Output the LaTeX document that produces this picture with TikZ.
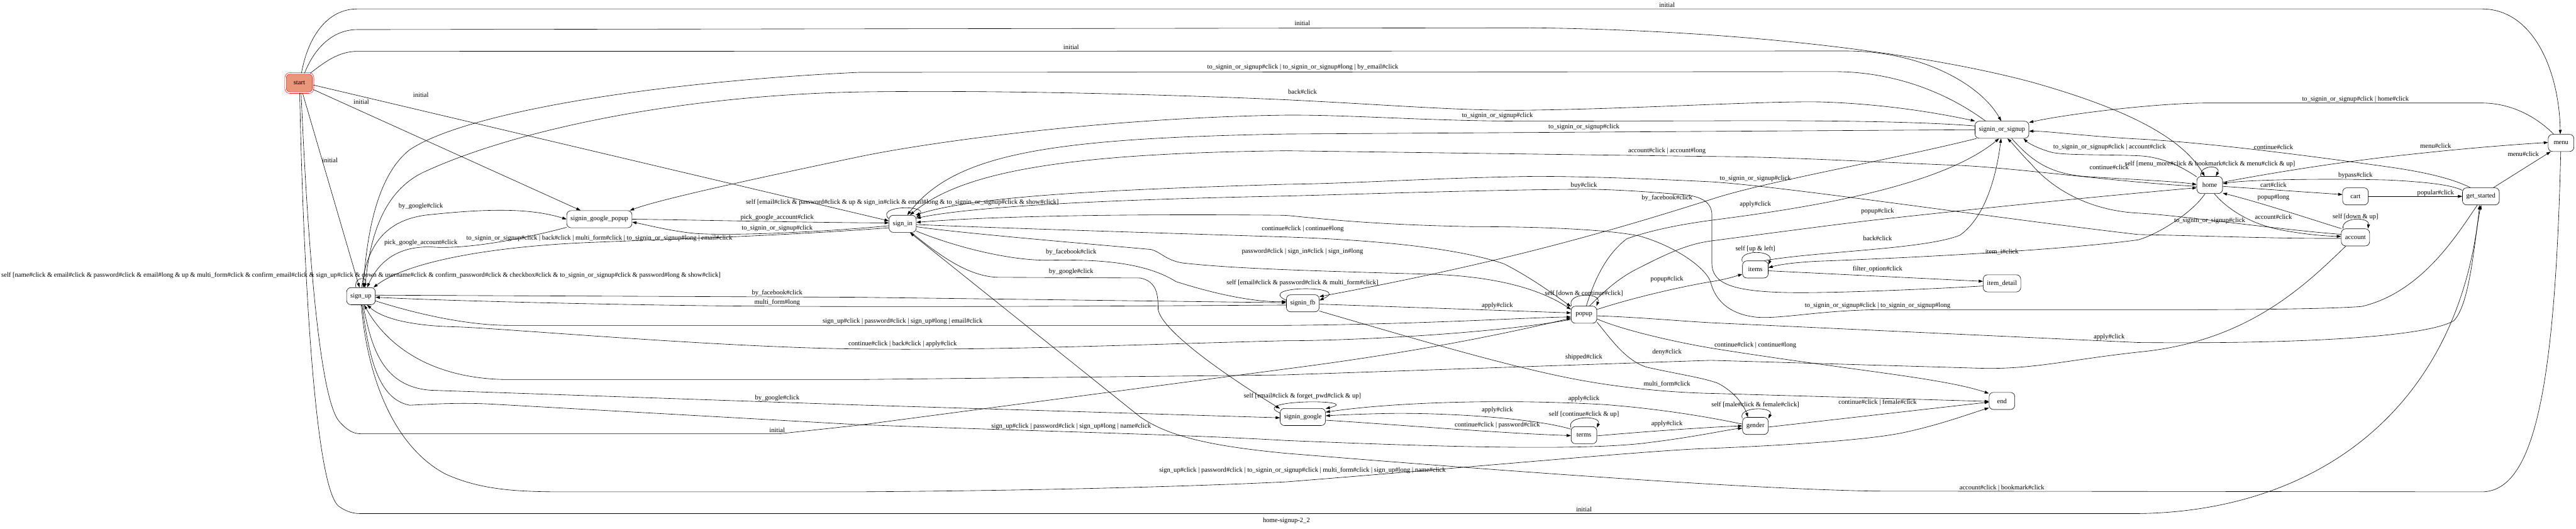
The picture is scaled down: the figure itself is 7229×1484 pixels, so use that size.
\documentclass[tikz,border=0pt]{standalone}
\usepackage{fontspec}
\setmainfont{Liberation Serif}
\usetikzlibrary{arrows.meta}
\definecolor{startfill}{HTML}{E9967A}

\begin{document}
\begin{tikzpicture}[x=0.75pt, y=-0.75pt,
	state/.style={draw, fill=white, rounded corners=9pt, line width=0.8pt, minimum height=36pt, minimum width=54pt, inner xsep=8pt, font=\fontsize{14}{16}\selectfont},
	initst/.style={state, draw=red, double=white, double distance=2.2pt, fill=startfill, minimum width=58pt, minimum height=40.5pt},
	edge/.style={line width=0.8pt, -{Triangle[length=9pt, width=6pt]}},
	lbl/.style={inner sep=0pt, font=\fontsize{14}{16}\selectfont}]
	\useasboundingbox (0,0) rectangle (7229,1484);

	\node[initst] (start) at (840,233) {start};
	\node[state] (signup) at (1013,831) {sign\_up};
	\node[state] (sgp) at (1682,615) {signin\_google\_popup};
	\node[state] (signin) at (2533,628) {sign\_in};
	\node[state] (fb) at (3656,851) {signin\_fb};
	\node[state] (google) at (3656,1170) {signin\_google};
	\node[state] (popup) at (4445,883) {popup};
	\node[state] (terms) at (4445,1221) {terms};
	\node[state] (items) at (4926,756) {items};
	\node[state] (gender) at (4926,1195) {gender};
	\node[state] (sos) at (5618,364) {signin\_or\_signup};
	\node[state] (detail) at (5618,795) {item\_detail};
	\node[state] (finish) at (5618,1125) {end};
	\node[state] (home) at (6201,519) {home};
	\node[state] (cart) at (6610,551) {cart};
	\node[state] (account) at (6610,666) {account};
	\node[state] (started) at (6962,551) {get\_started};
	\node[state] (menu) at (7187,401) {menu};

	\draw[edge] (start.78) .. controls (865,100) and (920,25) .. (1003,25) -- (6964,25) .. controls (7110,25) and (7182,200) .. (menu.95);
	\draw[edge] (start.62) .. controls (880,140) and (930,83) .. (1003,83) -- (4294,78) .. controls (4900,85) and (5400,150) .. (5700,230) .. controls (5950,300) and (6120,380) .. (home.120);
	\draw[edge] (start.42) .. controls (910,175) and (950,144) .. (1003,144) -- (5186,143) .. controls (5400,145) and (5560,240) .. (sos.95);
	\draw[edge] (start.-25) -- (sgp.155);
	\draw[edge] (start.-8) -- (signin.168);
	\draw[edge] (start.-72) -- (signup.100);
	\draw[edge] (start.-80) .. controls (860,600) and (890,1100) .. (950,1180) .. controls (975,1210) and (995,1217) .. (1011,1217) -- (2188,1217) -- (2410,1193) -- (3610,1035) .. controls (4000,985) and (4250,930) .. (popup.195);
	\draw[edge] (start.-88) .. controls (850,700) and (880,1360) .. (950,1420) .. controls (975,1438) and (995,1441) .. (1011,1441) -- (6000,1441) .. controls (6500,1435) and (6900,1150) .. (started.-98);

	\draw[edge] (signup.120) .. controls (992,775) and (1035,775) .. (signup.72);
	\draw[edge] (signup.85) .. controls (1030,680) and (1090,612) .. (1210,602) .. controls (1400,582) and (1500,588) .. (sgp.west);
	\draw[edge] (signup.65) .. controls (1040,620) and (1100,520) .. (1200,478) .. controls (1450,365) and (1900,268) .. (2410,258) .. controls (2800,252) and (3300,266) .. (3610,280) .. controls (3900,294) and (4100,312) .. (4294,309) .. controls (4600,305) and (4950,283) .. (5109,286) .. controls (5300,292) and (5450,320) .. (sos.162);
	\draw[edge] (signup.4) -- (2400,834) -- (fb.178);
	\draw[edge] (signup.-18) .. controls (1150,875) and (1300,913) .. (1431,913) -- (3600,913) .. controls (4000,910) and (4300,890) .. (popup.190);
	\draw[edge] (signup.-78) .. controls (1040,950) and (1060,1085) .. (1210,1095) -- (2400,1136) -- (google.182);
	\draw[edge] (signup.-83) .. controls (1035,1000) and (1060,1120) .. (1150,1137) .. controls (1260,1131) and (1320,1130) .. (1400,1135) -- (2400,1191) .. controls (2900,1210) and (3300,1218) .. (3610,1236) .. controls (4000,1252) and (4400,1265) .. (4600,1245) .. controls (4750,1228) and (4850,1205) .. (gender.190);
	\draw[edge] (signup.-88) .. controls (1030,1050) and (1100,1250) .. (1250,1330) .. controls (1350,1375) and (1450,1380) .. (1586,1380) -- (2400,1380) .. controls (3000,1376) and (3400,1362) .. (3610,1352) .. controls (4200,1305) and (4650,1262) .. (4800,1258) .. controls (5000,1250) and (5250,1235) .. (5350,1212) .. controls (5450,1190) and (5530,1160) .. (finish.208);

	\draw[edge] (sgp.east) .. controls (2000,618) and (2300,625) .. (signin.176);
	\draw[edge] (sgp.194) .. controls (1450,675) and (1300,700) .. (1210,693) .. controls (1110,690) and (1060,740) .. (signup.55);

	\draw[edge] (signin.160) .. controls (2455,575) and (2610,575) .. (signin.25);
	\draw[edge] (signin.188) .. controls (2300,652) and (2050,662) .. (1950,655) .. controls (1880,648) and (1820,632) .. (sgp.-5);
	\draw[edge] (signin.196) .. controls (2200,662) and (1850,672) .. (1663,680) .. controls (1400,690) and (1150,730) .. (signup.35);
	\draw[edge] (signin.-28) .. controls (2700,700) and (2850,733) .. (2950,730) .. controls (3100,727) and (3220,740) .. (3300,790) .. controls (3450,838) and (3550,848) .. (fb.174);
	\draw[edge] (signin.-45) .. controls (2640,720) and (2720,776) .. (2800,778) -- (3200,780) .. controls (3248,790) and (3250,830) .. (3250,868) .. controls (3260,930) and (3450,1060) .. (google.160);
	\draw[edge] (signin.-3) .. controls (2800,640) and (3300,655) .. (3610,665) .. controls (3900,675) and (4100,700) .. (4220,740) .. controls (4300,780) and (4380,840) .. (popup.148);
	\draw[edge] (signin.-12) .. controls (2700,655) and (3100,688) .. (3230,700) .. controls (3260,708) and (3270,730) .. (3320,738) .. controls (3450,752) and (3600,758) .. (4032,770) .. controls (4250,780) and (4350,830) .. (popup.158);

	\draw[edge] (fb.170) .. controls (3520,800) and (3800,800) .. (fb.10);
	\draw[edge] (fb.-3) -- (popup.172);
	\draw[edge] (fb.186) .. controls (3000,860) and (2400,862) .. (2000,858) .. controls (1600,853) and (1200,842) .. (signup.-4);
	\draw[edge] (fb.-25) .. controls (3900,930) and (4200,1020) .. (4400,1060) .. controls (4550,1090) and (4700,1102) .. (4810,1104) -- (finish.182);

	\draw[edge] (google.170) .. controls (3500,1120) and (3830,1120) .. (google.20);
	\draw[edge] (google.-8) .. controls (3900,1190) and (4200,1215) .. (terms.182);

	\draw[edge] (popup.145) .. controls (4395,820) and (4495,820) .. (popup.35);
	\draw[edge] (popup.200) .. controls (4200,935) and (3800,956) .. (3610,956) .. controls (3200,966) and (2800,984) .. (2400,979) .. controls (2000,974) and (1400,920) .. (1277,917) .. controls (1180,915) and (1080,900) .. (signup.-55);
	\draw[edge] (popup.22) .. controls (4600,830) and (4740,800) .. (4810,789) .. controls (4850,782) and (4870,775) .. (items.200);
	\draw[edge] (popup.58) .. controls (4500,820) and (4540,780) .. (4603,750) .. controls (4700,700) and (4750,682) .. (4810,675) .. controls (5000,650) and (5150,630) .. (5263,617) .. controls (5600,580) and (5900,550) .. (home.192);
	\draw[edge] (popup.75) .. controls (4470,800) and (4500,720) .. (4565,670) .. controls (4650,640) and (4750,625) .. (4810,617) .. controls (5100,580) and (5450,520) .. (sos.-108);
	\draw[edge] (popup.-5) .. controls (4600,890) and (4700,900) .. (4810,906) -- (6000,961) .. controls (6400,965) and (6800,950) .. (6886,900) .. controls (6935,850) and (6945,650) .. (started.-88);
	\draw[edge] (popup.-30) .. controls (4520,950) and (4560,1010) .. (4620,1030) .. controls (4700,1048) and (4780,1060) .. (4820,1075) .. controls (4870,1100) and (4895,1140) .. (gender.130);
	\draw[edge] (popup.-18) .. controls (4550,925) and (4700,960) .. (4810,978) .. controls (5200,1040) and (5450,1060) .. (finish.150);

	\draw[edge] (terms.150) .. controls (4395,1165) and (4495,1165) .. (terms.30);
	\draw[edge] (terms.155) .. controls (4300,1172) and (4050,1158) .. (3900,1160) .. controls (3800,1162) and (3750,1165) .. (google.3);
	\draw[edge] (terms.-3) .. controls (4600,1212) and (4800,1198) .. (gender.180);

	\draw[edge] (gender.150) .. controls (4875,1140) and (4980,1140) .. (gender.30);
	\draw[edge] (gender.172) .. controls (4850,1182) and (4700,1150) .. (4500,1135) .. controls (4200,1118) and (3900,1130) .. (google.12);
	\draw[edge] (gender.-5) -- (finish.185);

	\draw[edge] (items.150) .. controls (4875,700) and (4980,700) .. (items.20);
	\draw[edge] (items.-6) -- (detail.174);
	\draw[edge] (items.45) .. controls (5100,705) and (5400,700) .. (5500,660) .. controls (5585,600) and (5608,450) .. (sos.-96);
	\draw[edge] (detail.188) .. controls (5400,812) and (5100,825) .. (4990,820) .. controls (4850,815) and (4805,790) .. (4804,740) -- (4804,600) .. controls (4802,570) and (4780,555) .. (4740,548) .. controls (4600,535) and (4500,531) .. (4449,531) .. controls (4200,532) and (3800,545) .. (3610,550) .. controls (3200,558) and (2750,575) .. (signin.22);

	\draw[edge] (sos.172) .. controls (5350,338) and (5000,338) .. (4800,339) -- (4294,340) .. controls (4000,340) and (3800,322) .. (3610,323) .. controls (3100,330) and (2600,400) .. (2410,440) .. controls (2100,505) and (1850,560) .. (sgp.16);
	\draw[edge] (sos.152) .. controls (5450,250) and (5300,201) .. (5147,201) -- (2410,203) .. controls (1800,232) and (1300,320) .. (1150,420) .. controls (1060,490) and (1030,650) .. (signup.75);
	\draw[edge] (sos.west) -- (3610,376) .. controls (2950,388) and (2680,430) .. (signin.62);
	\draw[edge] (sos.199) .. controls (5300,450) and (4950,510) .. (4800,560) .. controls (4500,655) and (4200,740) .. (fb.22);
	\draw[edge] (sos.-42) .. controls (5700,450) and (5750,487) .. (5850,495) .. controls (5950,502) and (6100,508) .. (home.178);

	\draw[edge] (home.135) .. controls (6170,462) and (6235,462) .. (home.55);
	\draw[edge] (home.186) .. controls (5950,512) and (5650,470) .. (5494,464) .. controls (5200,452) and (5000,440) .. (4800,439) -- (3610,423) .. controls (3000,430) and (2700,480) .. (signin.50);
	\draw[edge] (home.148) .. controls (6140,480) and (6080,440) .. (6000,437) .. controls (5900,433) and (5800,436) .. (5760,428) .. controls (5720,418) and (5690,400) .. (sos.-22);
	\draw[edge] (home.-118) .. controls (6150,600) and (6050,660) .. (6000,673) .. controls (5800,700) and (5400,722) .. (5100,733) .. controls (5020,737) and (4985,745) .. (items.8);
	\draw[edge] (home.12) .. controls (6350,490) and (6550,455) .. (6784,431) .. controls (6950,413) and (7080,404) .. (menu.178);
	\draw[edge] (home.-6) -- (cart.172);
	\draw[edge] (home.-62) .. controls (6240,575) and (6300,625) .. (6400,645) .. controls (6480,660) and (6540,663) .. (account.176);

	\draw[edge] (cart.east) -- (started.west);

	\draw[edge] (account.145) .. controls (6570,608) and (6650,608) .. (account.35);
	\draw[edge] (account.148) .. controls (6500,620) and (6350,570) .. (home.-32);
	\draw[edge] (account.-138) .. controls (6460,810) and (6300,960) .. (6000,988) .. controls (5800,1010) and (5700,1038) .. (5550,1033) -- (4800,1011) -- (3600,1052) -- (2400,1065) -- (1431,1065) .. controls (1200,1065) and (1080,960) .. (signup.-70);
	\draw[edge] (account.-176) .. controls (6400,670) and (6200,662) .. (6000,658) .. controls (5600,612) and (5000,522) .. (4800,510) .. controls (4600,500) and (4400,494) .. (4294,495) .. controls (4000,500) and (3800,515) .. (3610,517) .. controls (3200,530) and (2750,545) .. (signin.34);
	\draw[edge] (account.168) .. controls (6400,645) and (6100,602) .. (6000,598) .. controls (5850,590) and (5750,520) .. (5700,460) .. controls (5670,430) and (5655,410) .. (sos.-58);

	\draw[edge] (started.140) .. controls (6880,500) and (6800,482) .. (6700,468) .. controls (6500,440) and (6200,400) .. (6000,390) .. controls (5850,382) and (5750,368) .. (sos.-3);
	\draw[edge] (started.35) -- (menu.-140);
	\draw[edge] (started.162) .. controls (6880,518) and (6800,510) .. (6700,505) .. controls (6500,500) and (6300,505) .. (home.6);
	\draw[edge] (started.-112) .. controls (6900,650) and (6800,820) .. (6627,860) .. controls (6500,869) and (6200,869) .. (6000,869) -- (5263,869) .. controls (5100,872) and (5000,895) .. (4930,890) .. controls (4850,882) and (4812,840) .. (4800,790) .. controls (4785,750) and (4700,690) .. (4600,662) .. controls (4500,642) and (4300,636) .. (4140,636) .. controls (3800,630) and (3650,606) .. (3600,604) .. controls (3200,600) and (2800,605) .. (signin.6);

	\draw[edge] (menu.-92) .. controls (7170,1100) and (7110,1380) .. (6964,1380) -- (5263,1378) .. controls (4900,1372) and (4200,1320) .. (3610,1272) .. controls (3400,1252) and (3280,1225) .. (3200,1170) -- (signin.-50);
	\draw[edge] (menu.130) .. controls (7120,330) and (7050,289) .. (6964,289) -- (6196,289) .. controls (6050,289) and (5800,320) .. (sos.15);

	\node[lbl] (t1) at (4678,14) {initial};
	\node[lbl] (t2) at (3655,65) {initial};
	\node[lbl] (t3) at (3006,133) {initial};
	\node[lbl] (t4) at (3656,189) {to\_signin\_or\_signup\#click | to\_signin\_or\_signup\#long | by\_email\#click};
	\node[lbl] (t5) at (3655,257) {back\#click};
	\node[lbl] (t6) at (4202,324) {to\_signin\_or\_signup\#click};
	\node[lbl] (t7) at (4445,356) {to\_signin\_or\_signup\#click};
	\node[lbl] (t8) at (4678,424) {account\#click | account\#long};
	\node[lbl] (t9) at (4445,521) {buy\#click};
	\node[lbl] (t10) at (4678,556) {by\_facebook\#click};
	\node[lbl] (t11) at (3656,642) {continue\#click | continue\#long};
	\node[lbl] (t12) at (3655,706) {password\#click | sign\_in\#click | sign\_in\#long};
	\node[lbl] (t13) at (3006,707) {by\_facebook\#click};
	\node[lbl] (t14) at (3006,763) {by\_google\#click};
	\node[lbl] (t15) at (3655,794) {self [email\#click \& password\#click \& multi\_form\#click]};
	\node[lbl] (t16) at (4445,824) {self [down \& continue\#click]};
	\node[lbl] (t17) at (4202,858) {apply\#click};
	\node[lbl] (t18) at (4678,784) {popup\#click};
	\node[lbl] (t19) at (4678,989) {deny\#click};
	\node[lbl] (t20) at (4445,1002) {shipped\#click};
	\node[lbl] (t21) at (4678,1077) {multi\_form\#click};
	\node[lbl] (t22) at (3655,1112) {self [email\#click \& forget\_pwd\#click \& up]};
	\node[lbl] (t23) at (4445,1118) {apply\#click};
	\node[lbl] (t24) at (4202,1150) {apply\#click};
	\node[lbl] (t25) at (4445,1162) {self [continue\#click \& up]};
	\node[lbl] (t26) at (4202,1193) {continue\#click | password\#click};
	\node[lbl] (t27) at (4678,1190) {apply\#click};
	\node[lbl] (t28) at (3655,1320) {sign\_up\#click | password\#click | to\_signin\_or\_signup\#click | multi\_form\#click | sign\_up\#long | name\#click};
	\node[lbl] (t29) at (3006,1197) {sign\_up\#click | password\#click | sign\_up\#long | name\#click};
	\node[lbl] (t30) at (4445,1430) {initial};
	\node[lbl] (t31) at (2533,966) {continue\#click | back\#click | apply\#click};
	\node[lbl] (t32) at (2533,902) {sign\_up\#click | password\#click | sign\_up\#long | email\#click};
	\node[lbl] (t33) at (2181,823) {by\_facebook\#click};
	\node[lbl] (t34) at (2181,849) {multi\_form\#long};
	\node[lbl] (t35) at (2181,1117) {by\_google\#click};
	\node[lbl] (t36) at (2181,1207) {initial};
	\node[lbl] (t37) at (1013,772) {self [name\#click \& email\#click \& password\#click \& email\#long \& up \& multi\_form\#click \& confirm\_email\#click \& sign\_up\#click \& down \& username\#click \& confirm\_password\#click \& checkbox\#click \& to\_signin\_or\_signup\#click \& password\#long \& show\#click]};
	\node[lbl] (t38) at (4926,502) {to\_signin\_or\_signup\#click};
	\node[lbl] (t39) at (4926,573) {apply\#click};
	\node[lbl] (t40) at (5269,593) {popup\#click};
	\node[lbl] (t41) at (5269,669) {back\#click};
	\node[lbl] (t42) at (4926,699) {self [up \& left]};
	\node[lbl] (t43) at (5618,707) {item\_i\#click};
	\node[lbl] (t44) at (5269,756) {filter\_option\#click};
	\node[lbl] (t45) at (5920,413) {to\_signin\_or\_signup\#click | account\#click};
	\node[lbl] (t46) at (5919,469) {continue\#click};
	\node[lbl] (t47) at (6202,461) {self [menu\_more\#click \& bookmark\#click \& menu\#click \& up]};
	\node[lbl] (t48) at (6610,278) {to\_signin\_or\_signup\#click | home\#click};
	\node[lbl] (t49) at (6380,412) {continue\#click};
	\node[lbl] (t50) at (6835,410) {menu\#click};
	\node[lbl] (t51) at (7081,433) {menu\#click};
	\node[lbl] (t52) at (6610,493) {bypass\#click};
	\node[lbl] (t53) at (6380,518) {cart\#click};
	\node[lbl] (t54) at (6835,541) {popular\#click};
	\node[lbl] (t55) at (6380,554) {popup\#long};
	\node[lbl] (t56) at (6380,609) {account\#click};
	\node[lbl] (t57) at (6610,609) {self [down \& up]};
	\node[lbl] (t58) at (6201,619) {to\_signin\_or\_signup\#click};
	\node[lbl] (t59) at (5269,858) {to\_signin\_or\_signup\#click | to\_signin\_or\_signup\#long};
	\node[lbl] (t60) at (5919,946) {apply\#click};
	\node[lbl] (t61) at (4926,968) {continue\#click | continue\#long};
	\node[lbl] (t62) at (4926,1136) {self [male\#click \& female\#click]};
	\node[lbl] (t63) at (5269,1129) {continue\#click | female\#click};
	\node[lbl] (t64) at (5618,1369) {account\#click | bookmark\#click};
	\node[lbl] (t65) at (2532,569) {self [email\#click \& password\#click \& up \& sign\_in\#click \& email\#long \& to\_signin\_or\_signup\#click \& show\#click]};
	\node[lbl] (t66) at (2181,611) {pick\_google\_account\#click};
	\node[lbl] (t67) at (2181,641) {to\_signin\_or\_signup\#click};
	\node[lbl] (t68) at (1682,668) {to\_signin\_or\_signup\#click | back\#click | multi\_form\#click | to\_signin\_or\_signup\#long | email\#click};
	\node[lbl] (t69) at (1181,579) {by\_google\#click};
	\node[lbl] (t70) at (1181,682) {pick\_google\_account\#click};
	\node[lbl] (t71) at (1181,266) {initial};
	\node[lbl] (t72) at (1014,285) {initial};
	\node[lbl] (t73) at (926,450) {initial};
	\node[lbl] (title) at (3610,1462) {home-signup-2\_2};
\end{tikzpicture}
\end{document}
